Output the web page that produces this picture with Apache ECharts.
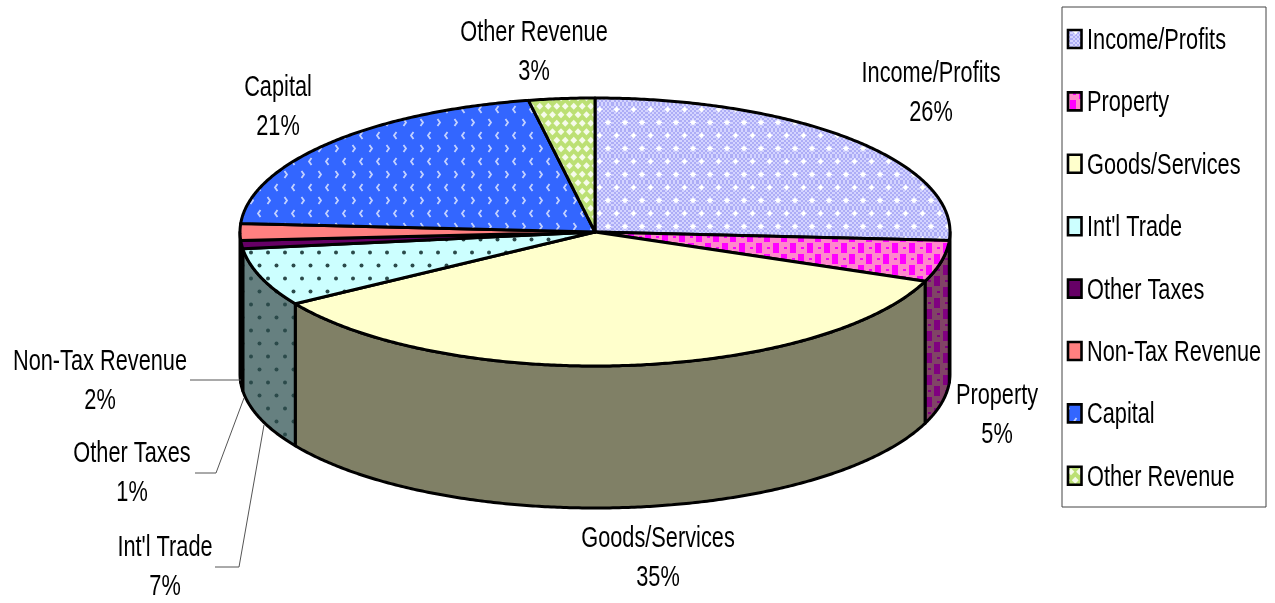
<!DOCTYPE html>
<html>
<head>
<meta charset="utf-8">
<style>html,body{margin:0;padding:0;background:#fff}#chart{width:1275px;height:603px}</style>
<script src="https://cdn.jsdelivr.net/npm/echarts@6/dist/echarts.min.js"></script>
</head>
<body>
<div id="chart"></div>
<script>
// Revenue shares by source, percent of the total
const categories = ['Income/Profits', 'Property', 'Goods/Services', "Int'l Trade", 'Other Taxes', 'Non-Tax Revenue', 'Capital', 'Other Revenue'];
const shares = [26, 5, 35, 7, 1, 2, 21, 3];

// Disc geometry, in pixels
const CX = 595, CY = 232, RX = 355, RY = 134, DEPTH = 142;
const FONT = '"Liberation Sans", Arial, sans-serif';
const TEXT_SIZE = 29, TEXT_SQUEEZE = 0.75;

// Label anchors (middle of the two-line label) and leader lines
const labelAnchors = [[931, 93], [997, 415], [658, 558], [165, 567], [132, 473], [100, 381], [278, 107], [534, 52]];
const leaders = {
  3: [[215, 567], [239, 567], [264, 425]],
  4: [[195, 473], [216, 473], [244, 398]],
  5: [[190, 380], [241, 380]]
};

// Legend layout
const LEGEND_BOX = { x: 1062, y: 7, width: 204, height: 500 };
const LEGEND_FIRST_Y = 39, LEGEND_STEP = 62.4, LEGEND_TEXT_DROP = 2;

function shade(hex, k) {
  const n = parseInt(hex.slice(1), 16);
  const c = [n >> 16, (n >> 8) & 255, n & 255].map(v => Math.round(v * k));
  return 'rgb(' + c.join(',') + ')';
}
function tile(w, h, paint) {
  const cv = document.createElement('canvas');
  cv.width = w; cv.height = h;
  paint(cv.getContext('2d'));
  return { image: cv, repeat: 'repeat' };
}
function dot(g, x, y, r) {
  g.beginPath();
  g.arc(x, y, r, 0, Math.PI * 2);
  g.fill();
}

// Hatch fills; k darkens the fill for the cylinder wall
const fills = [
  k => tile(17, 26, g => {
    const a = shade('#D4D4FF', k), b = shade('#ADADF6', k);
    for (let y = 0; y < 26; y += 2) for (let x = 0; x < 17; x++) {
      g.fillStyle = ((x >> 1) + (y >> 1)) % 2 ? a : b;
      g.fillRect(x, y, 1, 2);
    }
    g.fillStyle = shade('#FFFFFF', k);
    [[4.5, 5.5], [13, 18.5]].forEach(p => {
      dot(g, p[0], p[1], 2.2);
      g.fillRect(p[0] - 3, p[1] - 0.5, 6, 1);
      g.fillRect(p[0] - 0.5, p[1] - 3, 1, 6);
    });
  }),
  k => tile(17, 22, g => {
    g.fillStyle = shade('#FF88CC', k);
    g.fillRect(0, 0, 17, 22);
    g.fillStyle = shade('#FF00FF', k);
    g.fillRect(8, 1, 6, 10);
    g.fillRect(0, 12, 5, 10);
    g.fillRect(16, 12, 1, 10);
    g.fillRect(2, 5, 3, 2);
    g.fillRect(10, 16, 3, 2);
  }),
  k => tile(4, 4, g => {
    g.fillStyle = shade('#FFFFCC', k);
    g.fillRect(0, 0, 4, 4);
  }),
  k => tile(17, 26, g => {
    g.fillStyle = shade('#CCFFFF', k);
    g.fillRect(0, 0, 17, 26);
    g.fillStyle = '#2b4a4a';
    dot(g, 4.5, 5.5, 2);
    dot(g, 13, 18.5, 2);
  }),
  k => tile(4, 4, g => {
    g.fillStyle = shade('#660066', k);
    g.fillRect(0, 0, 4, 4);
  }),
  k => tile(4, 4, g => {
    g.fillStyle = shade('#FF8080', k);
    g.fillRect(0, 0, 4, 4);
  }),
  k => tile(17, 26, g => {
    g.fillStyle = shade('#3366FF', k);
    g.fillRect(0, 0, 17, 26);
    g.strokeStyle = shade('#C4D2FF', k);
    g.lineWidth = 1.8;
    // alternating rows of left- and right-pointing chevrons
    [[3, 5.5, 1], [15, 18.5, -1]].forEach(p => {
      g.beginPath();
      g.moveTo(p[0] + p[2] * 2.5, p[1] - 3.5);
      g.lineTo(p[0], p[1]);
      g.lineTo(p[0] + p[2] * 2.5, p[1] + 3.5);
      g.stroke();
    });
  }),
  k => tile(17, 17, g => {
    g.fillStyle = shade('#BCE074', k);
    g.fillRect(0, 0, 17, 17);
    g.fillStyle = shade('#F6FBEA', k);
    [[4.25, 4.25], [12.75, 4.25], [0, 12.75], [8.5, 12.75], [17, 12.75]].forEach(p => {
      g.beginPath();
      g.moveTo(p[0] - 3.4, p[1]);
      g.lineTo(p[0], p[1] - 3.4);
      g.lineTo(p[0] + 3.4, p[1]);
      g.lineTo(p[0], p[1] + 3.4);
      g.closePath();
      g.fill();
    });
  })
];
const topFills = fills.map(f => f(1));
const wallFills = fills.map(f => f(0.5));

// Cumulative clockwise angle, in degrees from twelve o'clock
const total = shares.reduce((a, b) => a + b, 0);
const edges = [0];
shares.forEach((v, i) => edges.push(edges[i] + v / total * 360));

function rim(deg, drop) {
  const r = deg * Math.PI / 180;
  return [CX + RX * Math.sin(r), CY - RY * Math.cos(r) + (drop || 0)];
}
function arc(a0, a1, drop) {
  const pts = [];
  const n = Math.max(2, Math.ceil(Math.abs(a1 - a0) * 2));
  for (let i = 0; i <= n; i++) pts.push(rim(a0 + (a1 - a0) * i / n, drop));
  return pts;
}

const outline = { stroke: '#000', lineWidth: 3, lineJoin: 'round' };
function textStyle(text, align) {
  return {
    text, fontFamily: FONT, fontSize: TEXT_SIZE, lineHeight: 39,
    fill: '#000', align, verticalAlign: 'middle'
  };
}

function renderSlice(params) {
  const i = params.seriesIndex;
  const a0 = edges[i], a1 = edges[i + 1];
  const children = [];

  // Cylinder wall: only the front half of the rim is visible
  const w0 = Math.max(a0, 90), w1 = Math.min(a1, 270);
  if (w1 > w0) {
    children.push({
      type: 'polygon', z2: 1,
      shape: { points: arc(w0, w1, 0).concat(arc(w1, w0, DEPTH)) },
      style: Object.assign({ fill: wallFills[i] }, outline)
    });
  }
  // Top face
  children.push({
    type: 'polygon', z2: 2,
    shape: { points: [[CX, CY]].concat(arc(a0, a1, 0)) },
    style: Object.assign({ fill: topFills[i] }, outline)
  });
  // Leader line
  if (leaders[i]) {
    children.push({
      type: 'polyline', z2: 3,
      shape: { points: leaders[i] },
      style: { fill: null, stroke: '#555', lineWidth: 1 }
    });
  }
  // Category and share label
  children.push({
    type: 'text', z2: 4,
    x: labelAnchors[i][0], y: labelAnchors[i][1],
    scaleX: TEXT_SQUEEZE,
    style: textStyle(categories[i] + '\n' + Math.round(shares[i] / total * 100) + '%', 'center')
  });
  return { type: 'group', children };
}

// Legend box with one swatch and one condensed name per category
const legendItems = [{
  type: 'rect',
  shape: LEGEND_BOX,
  style: { fill: '#fff', stroke: '#444', lineWidth: 1 }
}];
categories.forEach((name, i) => {
  const y = LEGEND_FIRST_Y + LEGEND_STEP * i;
  legendItems.push({
    type: 'rect',
    shape: { x: 1068, y: y - 9, width: 13.5, height: 18 },
    style: { fill: topFills[i], stroke: '#000', lineWidth: 2.6 }
  }, {
    type: 'text',
    x: 1087, y: y + LEGEND_TEXT_DROP,
    scaleX: TEXT_SQUEEZE,
    style: textStyle(name, 'left')
  });
});

const chart = echarts.init(document.getElementById('chart'), null, { renderer: 'canvas' });
chart.setOption({
  animation: false,
  backgroundColor: '#fff',
  graphic: legendItems,
  series: categories.map((name, i) => ({
    type: 'custom',
    name,
    coordinateSystem: 'none',
    silent: true,
    clip: false,
    data: [[shares[i]]],
    renderItem: renderSlice
  }))
});
</script>
</body>
</html>
